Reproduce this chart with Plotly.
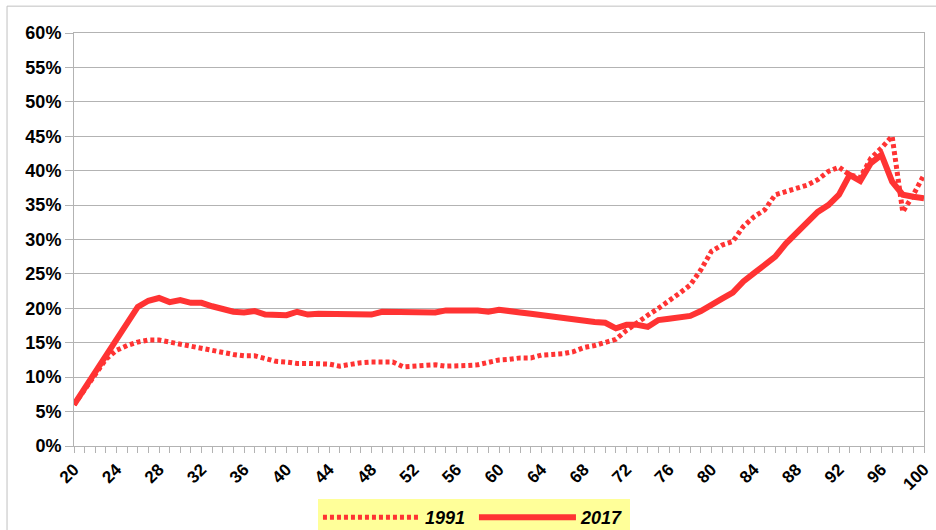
import plotly.graph_objects as go

ages = list(range(20, 101))

share_1991 = [
    6.0, 8.3, 10.6, 12.6, 13.9, 14.6, 15.1, 15.4, 15.4, 15.1,
    14.8, 14.4, 14.2, 13.8, 13.5, 13.3, 13.1, 13.1, 12.7, 12.3,
    12.2, 12.0, 12.0, 12.0, 11.9, 11.6, 11.9, 12.1, 12.2, 12.2,
    12.2, 11.5, 11.6, 11.8, 11.8, 11.6, 11.6, 11.7, 11.8, 12.1,
    12.5, 12.6, 12.8, 12.8, 13.2, 13.3, 13.4, 13.7, 14.3, 14.6,
    15.0, 15.5, 16.8, 18.0, 19.0, 20.0, 21.0, 22.2, 23.4, 25.6,
    28.3, 29.2, 29.7, 31.9, 33.3, 34.3, 36.5, 37.0, 37.4, 37.9,
    38.7, 39.9, 40.5, 39.4, 39.0, 41.8, 43.3, 45.0, 34.0, 36.5,
    39.4,
]

share_2017 = [
    6.0, 8.4, 10.9, 13.3, 15.8, 18.1, 20.2, 21.1, 21.5, 20.9,
    21.2, 20.8, 20.8, 20.3, 19.8, 19.5, 19.4, 19.6, 19.1, 19.1,
    19.0, 19.5, 19.1, 19.2, 19.2, 19.1, 19.1, 19.0, 19.1, 19.5,
    19.5, 19.4, 19.4, 19.5, 19.4, 19.7, 19.8, 19.7, 19.7, 19.5,
    19.8, 19.5, 19.4, 19.2, 19.0, 18.6, 18.4, 18.3, 18.0, 18.0,
    17.9, 17.1, 17.6, 17.6, 17.3, 18.3, 18.5, 18.8, 18.9, 19.6,
    20.6, 21.4, 22.3, 23.9, 25.1, 26.2, 27.5, 29.4, 30.9, 32.4,
    34.0, 35.0, 36.5, 39.4, 38.5, 41.1, 42.3, 38.4, 36.5, 36.2,
    36.0,
]

x_tick_vals = list(range(20, 101, 4))
x_tick_text = [str(v) for v in x_tick_vals]

RED = "#ff3333"
GRID = "#b3b3b3"
FONT = "Liberation Sans, Arial, sans-serif"

fig = go.Figure()
fig.add_trace(go.Scatter(
    x=ages, y=share_1991, mode="lines", name="<b><i>1991</i></b>",
    line=dict(color=RED, width=5, dash="4px,3px"),
))
fig.add_trace(go.Scatter(
    x=ages, y=share_2017, mode="lines", name="<b><i>2017</i></b>",
    line=dict(color=RED, width=6),
))

fig.update_layout(
    width=936, height=530,
    margin=dict(l=74, r=12, t=33, b=84),
    paper_bgcolor="white", plot_bgcolor="white",
    font=dict(family=FONT, size=18, color="black"),
    showlegend=True,
    legend=dict(
        orientation="h", xref="container", yref="container",
        x=0.3397, xanchor="left", y=(530 - 499) / 530, yanchor="top",
        bgcolor="#ffff99", font=dict(family=FONT, size=18, color="black"),
        itemwidth=97, entrywidth=44, entrywidthmode="pixels",
    ),
    hovermode=False,
)

fig.update_xaxes(
    range=[20, 100], tickmode="array", tickvals=x_tick_vals, ticktext=x_tick_text,
    tickangle=-45, tickfont=dict(family=FONT, size=17, color="black", weight="bold"),
    showgrid=False, zeroline=False, automargin=False,
    showline=True, linecolor=GRID, linewidth=1, mirror=True,
    ticks="outside", ticklen=6, tickcolor=GRID,
    minor=dict(dtick=1, tick0=20, ticks="outside", ticklen=6, tickcolor=GRID, showgrid=False),
)
fig.update_yaxes(
    range=[0, 60], dtick=5, ticksuffix="%",
    tickfont=dict(family=FONT, size=18, color="black", weight="bold"),
    showgrid=True, gridcolor=GRID, gridwidth=1, zeroline=False, automargin=False,
    showline=True, linecolor=GRID, linewidth=1, mirror=True,
    ticks="outside", ticklen=8, tickcolor=GRID,
)

# outer chart frame (left and top edges visible in the image)
fig.add_shape(type="line", xref="paper", yref="paper",
              x0=-0.0788, x1=1.2, y0=1.065, y1=1.065, line=dict(color="#c0c0c0", width=1))
fig.add_shape(type="line", xref="paper", yref="paper",
              x0=-0.0788, x1=-0.0788, y0=1.065, y1=-0.3, line=dict(color="#c0c0c0", width=1))

fig.write_html(
    "out.html",
    config={"displayModeBar": False, "staticPlot": True},
    post_script="document.body.style.margin='0px';document.body.style.overflow='hidden';",
)
